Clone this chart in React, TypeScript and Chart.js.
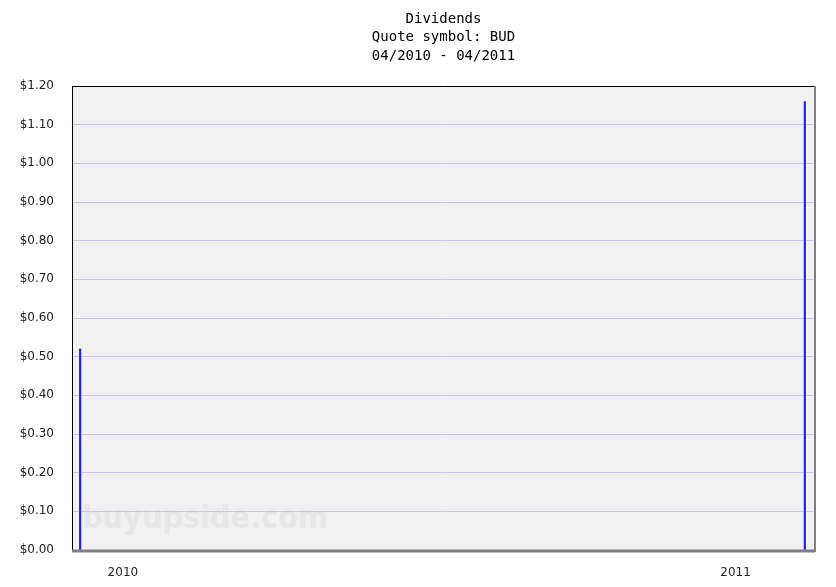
import { useEffect, useRef } from "react";
import { Chart, registerables, ChartConfiguration, Plugin } from "chart.js";

Chart.register(...registerables);

// range shown on the time axis
const rangeStart = "2010-04-20";
const rangeEnd = "2011-04-20";

// dividend payments
const payDates = ["2010-04-24", "2011-04-15"];
const payAmounts = [0.52, 1.16];

// year labels under the axis
const yearLabels = ["2010", "2011"];
const yearLabelDates = ["2010-05-15", "2011-03-12"];

const titleLines = ["Dividends", "Quote symbol: BUD", "04/2010 - 04/2011"];

const toTime = (s: string) => Date.parse(s + "T00:00:00Z");

const frame: Plugin<"bar"> = {
  id: "frame",
  beforeDraw(chart) {
    const { ctx, chartArea: a } = chart;
    ctx.save();
    ctx.fillStyle = "#f1f1f1";
    ctx.fillRect(a.left, a.top, a.right - a.left, a.bottom - a.top);
    // watermark
    ctx.font = "bold 32px 'DejaVu Sans Condensed'";
    ctx.fillStyle = "#e7e7e7";
    ctx.textBaseline = "alphabetic";
    ctx.textAlign = "left";
    ctx.fillText("buyupside.com", a.left + 10, 528);
    ctx.restore();
  },
  afterDraw(chart) {
    const { ctx, chartArea: a } = chart;
    ctx.save();
    // titles centred over plot
    ctx.font = "14px 'DejaVu Sans Mono'";
    ctx.fillStyle = "#000";
    ctx.textAlign = "center";
    ctx.textBaseline = "middle";
    const cx = (a.left + a.right) / 2;
    titleLines.forEach((t, i) => ctx.fillText(t, cx, 19 + i * 18.5));
    // borders
    ctx.lineWidth = 1;
    ctx.strokeStyle = "#000";
    ctx.beginPath();
    ctx.moveTo(a.left + 0.5, a.bottom);
    ctx.lineTo(a.left + 0.5, a.top + 0.5);
    ctx.lineTo(a.right, a.top + 0.5);
    ctx.stroke();
    ctx.strokeStyle = "#808080";
    ctx.lineWidth = 3;
    ctx.beginPath();
    ctx.moveTo(a.left, a.bottom + 1);
    ctx.lineTo(a.right, a.bottom + 1);
    ctx.stroke();
    ctx.lineWidth = 2;
    ctx.beginPath();
    ctx.moveTo(a.right, a.top);
    ctx.lineTo(a.right, a.bottom + 2);
    ctx.stroke();
    ctx.restore();
  },
};

function App() {
  const chartRef = useRef<null | HTMLCanvasElement>(null);

  useEffect(() => {
    if (!chartRef.current) return;
    const points = payDates.map((d, i) => ({ x: toTime(d), y: payAmounts[i] }));
    const config: ChartConfiguration<"bar"> = {
      type: "bar",
      data: {
        datasets: [
          {
            data: points as any,
            backgroundColor: "#2020f0",
            barThickness: 1.5,
            borderWidth: 0,
          },
        ],
      },
      options: {
        animation: false,
        responsive: true,
        maintainAspectRatio: false,
        layout: { padding: { top: 86, right: 21, left: 0, bottom: 0 } },
        plugins: {
          legend: { display: false },
          tooltip: { enabled: false },
          title: { display: false },
        },
        scales: {
          x: {
            type: "linear",
            min: toTime(rangeStart),
            max: toTime(rangeEnd),
            offset: false,
            grid: { display: false },
            border: { display: false },
            afterBuildTicks(scale) {
              scale.ticks = yearLabelDates.map((d) => ({ value: toTime(d) }));
            },
            afterFit(scale) {
              scale.height = 37;
            },
            ticks: {
              autoSkip: false,
              maxRotation: 0,
              padding: 8,
              color: "#222",
              font: { family: "DejaVu Sans", size: 12 },
              callback: (v) => {
                const i = yearLabelDates.findIndex((d) => toTime(d) === v);
                return i >= 0 ? yearLabels[i] : "";
              },
            },
          },
          y: {
            min: 0,
            max: 1.2,
            grid: { color: "#c4c4ec", drawTicks: false, lineWidth: 1 },
            border: { display: false },
            afterFit(scale) {
              scale.width = 72;
            },
            ticks: {
              stepSize: 0.1,
              padding: 18,
              color: "#222",
              font: { family: "DejaVu Sans", size: 12 },
              callback: (v) => "$" + Number(v).toFixed(2),
            },
          },
        },
      },
      plugins: [frame],
    };
    const chart = new Chart(chartRef.current, config);
    return () => chart.destroy();
  }, []);

  return (
    <div style={{ position: "fixed", left: 0, top: 0, width: 836, height: 587, background: "#fff" }}>
      <canvas ref={chartRef} />
    </div>
  );
}

export default App;
